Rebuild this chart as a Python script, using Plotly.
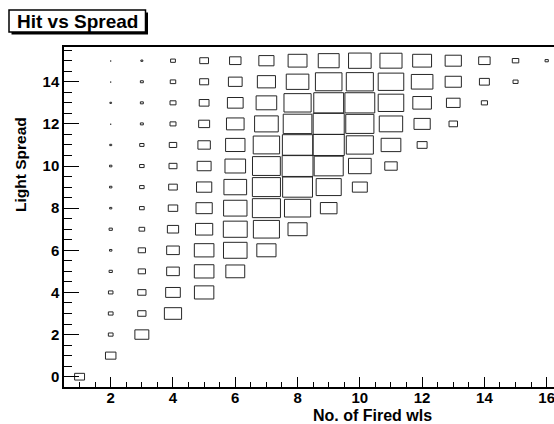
import math
import plotly.graph_objects as go

# Bin centres of the 2-D histogram
fired = list(range(1, 17))   # No. of fired wls
spread = list(range(16))     # light spread

# Entries per bin, one list per fired-wls value, indexed by light spread 0..15
fired_01 = [102, 0, 0, 0, 0, 0, 0, 0, 0, 0, 0, 0, 0, 0, 0, 0]
fired_02 = [0, 113, 23, 23, 21, 11, 6, 11, 5, 6, 6, 4, 1, 3, 1, 1]
fired_03 = [0, 0, 200, 70, 70, 54, 54, 33, 23, 21, 21, 19, 9, 9, 9, 4]
fired_04 = [0, 0, 0, 305, 221, 165, 165, 130, 92, 77, 65, 57, 37, 37, 31, 24]
fired_05 = [0, 0, 0, 0, 388, 396, 396, 305, 271, 239, 200, 159, 124, 98, 83, 79]
fired_06 = [0, 0, 0, 0, 0, 368, 573, 588, 564, 531, 437, 388, 320, 255, 194, 135]
fired_07 = [0, 0, 0, 0, 0, 0, 380, 701, 812, 812, 800, 717, 578, 437, 338, 236]
fired_08 = [0, 0, 0, 0, 0, 0, 0, 376, 706, 919, 981, 950, 847, 761, 526, 368]
fired_09 = [0, 0, 0, 0, 0, 0, 0, 0, 285, 648, 870, 1000, 994, 919, 728, 450]
fired_10 = [0, 0, 0, 0, 0, 0, 0, 0, 0, 230, 531, 755, 817, 919, 755, 526]
fired_11 = [0, 0, 0, 0, 0, 0, 0, 0, 0, 0, 159, 400, 564, 674, 674, 503]
fired_12 = [0, 0, 0, 0, 0, 0, 0, 0, 0, 0, 0, 102, 271, 357, 481, 368]
fired_13 = [0, 0, 0, 0, 0, 0, 0, 0, 0, 0, 0, 0, 74, 192, 271, 271]
fired_14 = [0, 0, 0, 0, 0, 0, 0, 0, 0, 0, 0, 0, 0, 39, 102, 135]
fired_15 = [0, 0, 0, 0, 0, 0, 0, 0, 0, 0, 0, 0, 0, 0, 26, 43]
fired_16 = [0, 0, 0, 0, 0, 0, 0, 0, 0, 0, 0, 0, 0, 0, 0, 11]

counts_by_fired = [fired_01, fired_02, fired_03, fired_04, fired_05, fired_06,
                   fired_07, fired_08, fired_09, fired_10, fired_11, fired_12,
                   fired_13, fired_14, fired_15, fired_16]

x_ticks = [2, 4, 6, 8, 10, 12, 14, 16]
y_ticks = [0, 2, 4, 6, 8, 10, 12, 14]

FONT = "Liberation Sans, Arial, Helvetica, sans-serif"

# Canvas and plot-frame geometry (pixels)
W, H = 554, 424
L, R, T, B = 64, 0, 47, 37
PW, PH = W - L - R, H - T - B


def px_x(px):
    return (px - L) / PW


def px_y(py):
    return (H - B - py) / PH


# Box outlines: box side scales with sqrt(content / max), area ~ content
zmax = max(max(c) for c in counts_by_fired)
bx, by = [], []
for fx, col in zip(fired, counts_by_fired):
    for sy, v in zip(spread, col):
        if v <= 0:
            continue
        h = 0.5 * math.sqrt(v / zmax)
        bx += [fx - h, fx + h, fx + h, fx - h, fx - h, None]
        by += [sy - h, sy - h, sy + h, sy + h, sy - h, None]

fig = go.Figure()
fig.add_trace(go.Scatter(
    x=bx, y=by, mode="lines",
    line=dict(color="#262626", width=1),
    hoverinfo="skip", showlegend=False,
))

tick_font = dict(family=FONT, size=15, color="black", weight="bold")

fig.update_layout(
    width=W, height=H,
    margin=dict(l=L, r=R, t=T, b=B, pad=0),
    paper_bgcolor="white", plot_bgcolor="white",
    xaxis=dict(
        range=[0.5, 16.235],
        tickvals=x_ticks, ticktext=[str(v) for v in x_ticks],
        ticks="inside", ticklen=10, tickwidth=1, tickcolor="black",
        showline=True, linecolor="black", linewidth=1.5, mirror=True,
        showgrid=False, zeroline=False, tickfont=tick_font,
        ticklabeloverflow="allow", ticklabelstandoff=-4,
        minor=dict(dtick=0.5, tick0=0, ticks="inside", ticklen=5,
                   tickwidth=1, tickcolor="black", showgrid=False),
    ),
    yaxis=dict(
        range=[-0.489, 15.65],
        tickvals=y_ticks, ticktext=[str(v) for v in y_ticks],
        ticks="inside", ticklen=15, tickwidth=1, tickcolor="black",
        showline=True, linecolor="black", linewidth=1.5, mirror=False,
        showgrid=False, zeroline=False, tickfont=tick_font,
        minor=dict(dtick=0.5, tick0=0, ticks="inside", ticklen=8,
                   tickwidth=1, tickcolor="black", showgrid=False),
    ),
)

# Title pave with drop shadow
fig.add_shape(type="rect", xref="paper", yref="paper",
              x0=px_x(11.5), x1=px_x(148), y0=px_y(34.5), y1=px_y(12.5),
              fillcolor="black", line=dict(width=0), layer="above")
fig.add_shape(type="rect", xref="paper", yref="paper",
              x0=px_x(9), x1=px_x(145.5), y0=px_y(32), y1=px_y(10),
              fillcolor="white", line=dict(color="black", width=1.5),
              layer="above")
fig.add_annotation(text="Hit vs Spread", xref="paper", yref="paper",
                   x=px_x(77), y=px_y(21.5), xanchor="center",
                   yanchor="middle", showarrow=False,
                   font=dict(family=FONT, size=19, color="black",
                             weight="bold"))

# Axis titles
fig.add_annotation(text="No. of Fired wls", xref="paper", yref="paper",
                   x=px_x(372.5), y=px_y(415), xanchor="center",
                   yanchor="middle", showarrow=False,
                   font=dict(family=FONT, size=16, color="black",
                             weight="bold"))
fig.add_annotation(text="Light Spread", xref="paper", yref="paper",
                   x=px_x(20), y=px_y(165), xanchor="center",
                   yanchor="middle", showarrow=False, textangle=-90,
                   font=dict(family=FONT, size=15.5, color="black",
                             weight="bold"))

fig.write_html("out.html")
